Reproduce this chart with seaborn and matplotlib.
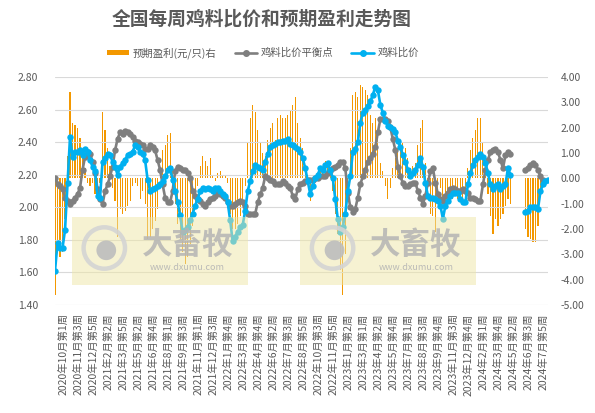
import numpy as np
import pandas as pd
import matplotlib
matplotlib.use("Agg")
import matplotlib.pyplot as plt
import matplotlib.transforms as mtransforms
from matplotlib.patches import Rectangle, Ellipse, Patch
from matplotlib.lines import Line2D
import seaborn as sns

nan = np.nan

# =====================================================================
# DATA (weekly points)
# =====================================================================
tick_labels = [
    '2020年10月第1周', '2020年11月第3周', '2020年12月第5周', '2021年2月第2周',
    '2021年3月第5周', '2021年5月第2周', '2021年6月第4周', '2021年8月第1周',
    '2021年9月第3周', '2021年11月第1周', '2021年12月第3周', '2022年1月第4周',
    '2022年3月第3周', '2022年4月第4周', '2022年6月第2周', '2022年7月第3周',
    '2022年8月第5周', '2022年10月第3周', '2022年11月第5周', '2023年1月第2周',
    '2023年3月第1周', '2023年4月第2周', '2023年5月第4周', '2023年7月第1周',
    '2023年8月第3周', '2023年9月第4周', '2023年11月第3周', '2023年12月第4周',
    '2024年2月第1周', '2024年3月第4周', '2024年5月第2周', '2024年6月第3周',
    '2024年7月第5周',
]
tick_step = 6

# 鸡料比价
ratio = [
    1.61, 1.78, 1.75, 1.75, 1.86, 2.15, 2.43, 2.31, 2.34, 2.34,
    2.35, 2.32, 2.36, 2.34, 2.29, 2.25, 2.22, 2.07, 2.06, 2.28,
    2.30, 2.33, 2.32, 2.28, 2.25, 2.20, 2.25, 2.27, 2.29, 2.32,
    2.33, 2.34, 2.38, 2.37, 2.34, 2.33, 2.29, 2.17, 2.10, 2.11,
    2.12, 2.13, 2.14, 2.16, 2.19, 2.23, 2.24, 2.17, 2.10, 2.03,
    1.95, 1.85, 1.86, 1.88, 1.92, 1.96, 2.01, 2.05, 2.10, 2.12,
    2.11, 2.12, 2.11, 2.10, 2.12, 2.12, 2.10, 2.08, 2.07, 2.03,
    1.92, 1.79, 1.82, 1.85, 1.88, 1.89, 1.98, 2.10, 2.16, 2.22,
    2.26, 2.25, 2.24, 2.23, 2.28, 2.33, 2.37, 2.38, 2.39, 2.40,
    2.40, 2.41, 2.41, 2.42, 2.39, 2.38, 2.37, 2.36, 2.34, 2.30,
    2.24, 2.16, 2.08, 2.13, 2.18, 2.20, 2.24, 2.23, 2.26, 2.27,
    2.23, 2.18, 2.05, 1.93, 1.85, 1.88, 1.96, 2.10, 2.19, 2.34,
    2.36, 2.40, 2.52, 2.58, 2.60, 2.62, 2.65, 2.69, 2.74, 2.72,
    2.63, 2.58, 2.53, 2.50, 2.49, 2.48, 2.46, 2.41, 2.37, 2.32,
    2.28, 2.23, 2.19, 2.21, 2.23, 2.26, 2.30, 2.25, 2.15, 2.07,
    2.06, 2.06, 2.05, 2.04, 2.01, 1.93, 2.01, 2.04, 2.07, 2.09,
    2.09, 2.09, 2.05, 2.03, 2.03, 2.14, 2.21, 2.26, 2.29, 2.31,
    2.33, 2.31, 2.27, 2.21, 2.14, 2.11, 2.13, 2.14, 2.11, 2.13,
    2.14, 2.24, 2.20, nan, nan, nan, nan, nan, 1.97, 1.98,
    2.00, 2.00, 2.00, 1.99, 2.10, 2.14, 2.16, 2.17,
]

# 鸡料比价平衡点
breakeven = [
    2.18, 2.14, 2.13, 2.11, 2.06, 2.04, 2.02, 2.04, 2.06, 2.08,
    2.12, 2.23, 2.31, 2.34, 2.33, 2.28, 2.21, 2.11, 2.05, 2.02,
    2.10, 2.14, 2.19, 2.25, 2.35, 2.42, 2.46, 2.45, 2.47, 2.46,
    2.45, 2.43, 2.41, 2.40, 2.39, 2.38, 2.36, 2.36, 2.38, 2.37,
    2.35, 2.29, 2.23, 2.14, 2.06, 2.03, 2.03, 2.10, 2.22, 2.25,
    2.24, 2.23, 2.23, 2.21, 2.18, 2.10, 2.07, 2.05, 2.04, 2.02,
    2.01, 2.03, 2.05, 2.06, 2.07, 2.09, 2.08, 2.07, 2.06, 2.03,
    2.01, 2.01, 2.02, 2.03, 2.04, 2.03, 2.01, 1.96, 1.96, 1.96,
    1.96, 2.03, 2.08, 2.12, 2.19, 2.18, 2.17, 2.16, 2.14, 2.14,
    2.14, 2.16, 2.15, 2.13, 2.12, 2.07, 2.05, 2.11, 2.14, 2.15,
    2.16, 2.17, 2.17, 2.17, 2.18, 2.18, 2.19, 2.19, 2.19, 2.21,
    2.22, 2.24, 2.25, 2.26, 2.28, 2.28, 2.24, 2.09, 2.00, 1.97,
    1.99, 2.06, 2.14, 2.19, 2.23, 2.28, 2.30, 2.33, 2.37, 2.46,
    2.54, 2.54, 2.54, 2.53, 2.49, 2.42, 2.35, 2.25, 2.19, 2.15,
    2.13, 2.13, 2.14, 2.15, 2.15, 2.10, 2.06, 2.02, 2.07, 2.15,
    2.22, 2.24, 2.15, 2.08, 2.05, 2.04, 2.07, 2.09, 2.11, 2.12,
    2.11, 2.10, 2.10, 2.11, 2.10, 2.09, 2.06, 2.06, 2.05, 2.04,
    2.04, 2.14, 2.23, 2.29, 2.34, 2.35, 2.36, 2.34, 2.29, 2.24,
    2.32, 2.34, 2.33, nan, nan, nan, nan, nan, 2.23, 2.24,
    2.26, 2.27, 2.26, 2.23, 2.19, 2.17, nan, nan,
]

# 预期盈利(元/只), right axis
profit = [
    -4.6, -2.9, -3.1, -2.9, -1.6, 0.9, 3.4, 2.2, 2.1, 2.0,
    1.6, 1.0, 0.4, -0.2, -0.3, -0.2, -0.6, -0.3, -0.2, 2.6,
    1.9, 1.2, 0.5, -0.4, -0.9, -2.3, -1.2, -1.4, -1.3, -1.1,
    -0.9, -0.3, -0.2, -0.3, -0.8, -0.5, -1.0, -2.4, -2.3, -2.0,
    -1.7, -1.2, 0.3, 1.1, 1.3, 1.7, 1.8, 0.5, -1.0, -1.8,
    -2.4, -2.9, -3.4, -3.1, -2.6, -1.9, -1.0, -0.3, 0.5, 0.9,
    0.7, 0.5, 0.8, 0.1, -0.1, 0.2, 0.3, 0.1, 0.1, -0.2,
    -1.4, -2.0, -2.0, -1.8, -1.5, -1.1, -0.3, 1.4, 2.4, 2.9,
    2.6, 1.9, 1.4, 1.0, 0.9, 1.5, 2.0, 2.2, 1.5, 2.4,
    2.5, 2.4, 2.4, 2.5, 2.7, 2.9, 3.2, 2.2, 1.6, 1.2,
    0.5, -0.1, -0.9, -0.3, 0.1, 0.2, 0.5, 0.4, 0.7, 0.6,
    0.2, -0.5, -1.4, -2.2, -3.6, -4.6, -3.0, -0.8, 1.2, 3.3,
    3.4, 3.2, 3.7, 3.6, 3.5, 3.3, 2.5, 2.2, 2.4, 1.6,
    0.6, 0.3, -0.3, -0.8, -0.4, 0.4, 0.8, 1.2, 1.4, 1.4,
    1.2, 0.8, 0.4, 0.5, 0.6, 1.3, 2.0, 2.3, 0.6, -0.6,
    -1.4, -1.5, -2.1, -0.5, -0.4, -0.9, -0.7, -0.7, -0.8, -0.8,
    -0.7, -0.8, -0.8, -0.9, -0.8, 0.4, 1.1, 1.6, 1.9, 2.4,
    2.4, 1.4, 0.3, -0.6, -1.5, -2.2, -1.6, -1.9, -1.6, -1.4,
    -1.1, -0.8, -1.0, nan, nan, nan, nan, nan, -2.0, -2.3,
    -2.4, -2.5, -2.5, -1.9, -0.7, -0.2, nan, nan,
]

left_ticks = [1.40, 1.60, 1.80, 2.00, 2.20, 2.40, 2.60, 2.80]
right_ticks = [-5, -4, -3, -2, -1, 0, 1, 2, 3, 4]

# =====================================================================
# STYLE
# =====================================================================
sns.set_theme(style="white")
plt.rcParams['font.family'] = ['Noto Sans CJK SC', 'DejaVu Sans']
plt.rcParams['axes.unicode_minus'] = False

TXT = '#595959'
ORANGE = '#F39800'
GRAY = '#7F7F7F'
CYAN = '#00B0F0'

df = pd.DataFrame({
    'week': np.arange(len(ratio)),
    'ratio': ratio,
    'breakeven': breakeven,
    'profit': profit,
})


def segments(col):
    d = df[['week', col]].copy()
    d['seg'] = d[col].isna().cumsum()
    return d.dropna()


AX_W, AX_H = 493, 228
fig = plt.figure(figsize=(5.95, 4.13), dpi=100)
ax_bar = fig.add_axes([55 / 595, 1 - 305 / 413, AX_W / 595, AX_H / 413])
ax = ax_bar.twinx()
ax.set_zorder(ax_bar.get_zorder() + 1)
ax.patch.set_visible(False)

# bars on the right-hand scale
sns.barplot(data=df.dropna(subset=['profit']), x='week', y='profit',
            native_scale=True, color=ORANGE, saturation=1, width=0.45,
            errorbar=None, linewidth=0, ax=ax_bar)

# lines on the left-hand scale
sns.lineplot(data=segments('breakeven'), x='week', y='breakeven', units='seg',
             estimator=None, color=GRAY, lw=1.9, marker='o', markersize=4.6,
             markeredgewidth=0, legend=False, ax=ax)
sns.lineplot(data=segments('ratio'), x='week', y='ratio', units='seg',
             estimator=None, color=CYAN, lw=1.9, marker='o', markersize=4.6,
             markeredgewidth=0, legend=False, ax=ax)

n = len(ratio)
ax_bar.set_xlim(0, n - 1)
ax.set_ylim(1.40, 2.80)
ax_bar.set_ylim(-5, 4)

# left ticks + gridlines
ax.yaxis.tick_left()
ax.set_yticks(left_ticks)
ax.set_yticklabels([f'{v:.2f}' for v in left_ticks])
ax.grid(axis='y', color='#D9D9D9', lw=0.8)
ax.grid(axis='x', visible=False)

# right ticks for the bars
ax_bar.yaxis.tick_right()
ax_bar.set_yticks(right_ticks)
ax_bar.set_yticklabels([f'{v:.2f}' for v in right_ticks])
ax_bar.grid(False)

# category labels live on the host axes (the twin hides its x axis)
ax_bar.set_xticks(np.arange(0, len(tick_labels) * tick_step, tick_step))
ax_bar.set_xticklabels(tick_labels, rotation=90)

for a in (ax, ax_bar):
    a.set_xlabel('')
    a.set_ylabel('')
    for s in a.spines.values():
        s.set_visible(False)
    a.tick_params(length=0, labelsize=7.5, labelcolor=TXT)
ax.tick_params(axis='y', pad=12)
ax_bar.tick_params(axis='y', pad=9)
ax_bar.tick_params(axis='x', pad=6)

# rotated category labels sit a little to the right of their tick in the source
shift = mtransforms.ScaledTranslation(8 / 100, 0, fig.dpi_scale_trans)
for lab in ax_bar.get_xticklabels():
    lab.set_transform(lab.get_transform() + shift)

# watermark boxes (drawn over the plot, half transparent)
for x0 in (0.034, 0.497):
    ax.add_patch(Rectangle((x0, 0.088), 0.357, 0.298, transform=ax.transAxes,
                           facecolor='#EFE7A6', alpha=0.5, lw=0, zorder=10))
    cx, cy = x0 + 0.066, 0.250
    r = 0.042
    ax.add_patch(Ellipse((cx, cy), 2 * r, 2 * r * AX_W / AX_H,
                         transform=ax.transAxes, fill=False, ec='#D4D4D4',
                         lw=3.2, zorder=11, alpha=0.9))
    ax.add_patch(Ellipse((cx + 0.004, cy - 0.01), 0.04, 0.04 * AX_W / AX_H,
                         transform=ax.transAxes, fc='#BDBDBD', ec='none',
                         zorder=11, alpha=0.9))
    ax.text(x0 + 0.235, 0.262, '大畜牧', transform=ax.transAxes, ha='center',
            va='center', fontsize=22, fontweight='bold', color='#B4B4B4',
            alpha=0.85, zorder=12)
    ax.text(x0 + 0.235, 0.165, 'www.dxumu.com', transform=ax.transAxes,
            ha='center', va='center', fontsize=6.5, color='#B4B4B4',
            alpha=0.9, zorder=12)

# title and legend (the source centres both a bit left of the figure middle)
fig.text(262 / 595, 1 - 19 / 413, '全国每周鸡料比价和预期盈利走势图', ha='center',
         va='center', fontsize=13.5, fontweight='bold', color=TXT)

handles = [
    Patch(facecolor=ORANGE, edgecolor='none'),
    Line2D([], [], color=GRAY, lw=1.9, marker='o', markersize=4),
    Line2D([], [], color=CYAN, lw=1.9, marker='o', markersize=4),
]
fig.legend(handles, ['预期盈利(元/只)右', '鸡料比价平衡点', '鸡料比价'],
           loc='center', bbox_to_anchor=(263 / 595, 1 - 53 / 413), ncol=3,
           frameon=False, fontsize=7.5, labelcolor=TXT, handlelength=2.2,
           handleheight=0.45, columnspacing=1.7, handletextpad=0.35,
           borderpad=0, borderaxespad=0)

fig.savefig('out.png', dpi=100)
